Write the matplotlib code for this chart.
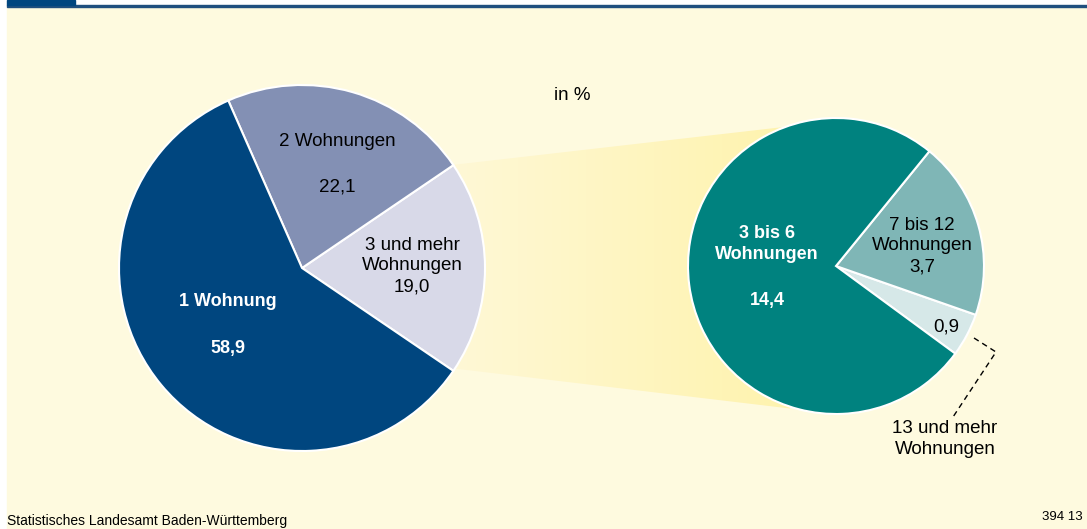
import numpy as np
import matplotlib.pyplot as plt
from matplotlib.patches import Polygon, Rectangle
from matplotlib.colors import LinearSegmentedColormap

plt.rcParams['font.family'] = ['Liberation Sans', 'DejaVu Sans']

# data
main_labels = ['3 und mehr\nWohnungen', '2 Wohnungen', '1 Wohnung']
main_values = [19.0, 22.1, 58.9]
main_colors = ['#d8d9e8', '#8390b4', '#00467f']
sub_labels = ['13 und mehr\nWohnungen', '7 bis 12\nWohnungen', '3 bis 6\nWohnungen']
sub_values = [0.9, 3.7, 14.4]
sub_colors = ['#d6e8e8', '#7fb6b6', '#00827f']

W, H = 1087, 529
bg = '#fefadf'
fig = plt.figure(figsize=(W / 100, H / 100), dpi=100)
fig.patch.set_facecolor('white')
ax = fig.add_axes([0, 0, 1, 1])
ax.set_xlim(0, W)
ax.set_ylim(0, H)
ax.axis('off')

def Y(y):
    return H - y

def num(v):
    return f'{v:.1f}'.replace('.', ',')

# cream panel + top rule
ax.add_patch(Rectangle((7, 0), W - 7, Y(7), color=bg, zorder=0))
ax.add_patch(Rectangle((7, Y(7)), W - 7, 2.5, color='#1f4f7e', zorder=1))
ax.add_patch(Rectangle((7, Y(5)), 68, 5, color='#00467f', zorder=1))

# yellow zoom band
c1, r1 = (302, Y(268)), 183
c2, r2 = (836, Y(266)), 148
poly = Polygon([(452, Y(165)), (836, Y(121)), (836, Y(414)), (450, Y(368))],
               closed=True, transform=ax.transData)
cmap = LinearSegmentedColormap.from_list('band', ['#fef8d6', '#fff3ae'])
grad = np.linspace(0, 1, 256).reshape(1, -1)
im = ax.imshow(grad, cmap=cmap, extent=[450, 790, Y(420), Y(115)],
               aspect='auto', zorder=2)
im.set_clip_path(poly)

wp = dict(edgecolor='white', linewidth=1.5)
ax.pie(main_values, colors=main_colors, startangle=-34.2, center=c1,
       radius=r1, wedgeprops=wp, frame=True)
ax.pie(sub_values, colors=sub_colors, startangle=-36.3, center=c2,
       radius=r2, wedgeprops=wp, frame=True)
for p in ax.patches[-6:]:
    p.set_zorder(3)
ax.set_xlim(0, W)
ax.set_ylim(0, H)
ax.set_aspect('auto')
ax.axis('off')

fs = 13.5
fb = 13
ls = 1.3
d = 2  # small downward nudge for text
ax.text(572, Y(93 + d), 'in %', fontsize=fs, ha='center', va='center')
ax.text(337, Y(140 + d), main_labels[1], fontsize=fs, ha='center', va='center', zorder=5)
ax.text(337, Y(185 + d), num(main_values[1]), fontsize=fs,
        ha='center', va='center', zorder=5)
ax.text(412, Y(264 + d), main_labels[0] + '\n' + num(main_values[0]),
        fontsize=fs, ha='center', va='center', linespacing=ls, zorder=5)
ax.text(228, Y(300 + d), main_labels[2], fontsize=fb, ha='center', va='center',
        color='white', fontweight='bold', zorder=5)
ax.text(228, Y(347 + d), num(main_values[2]), fontsize=fb,
        ha='center', va='center', color='white', fontweight='bold', zorder=5)

ax.text(767, Y(242 + d), sub_labels[2], fontsize=fb, ha='center', va='center',
        color='white', fontweight='bold', linespacing=ls, zorder=5)
ax.text(767, Y(299 + d), num(sub_values[2]), fontsize=fb,
        ha='center', va='center', color='white', fontweight='bold', zorder=5)
ax.text(922, Y(244 + d), sub_labels[1] + '\n' + num(sub_values[1]),
        fontsize=fs, ha='center', va='center', linespacing=ls, zorder=5)
ax.text(946, Y(325 + d), num(sub_values[0]), fontsize=fs,
        ha='center', va='center', zorder=5)
ax.text(945, Y(437 + d), sub_labels[0], fontsize=fs, ha='center', va='center',
        linespacing=ls, zorder=5)
ax.plot([974, 996, 953], [Y(338), Y(352), Y(417)], color='black', lw=1,
        ls=(0, (4, 3)), zorder=5)

foot = ['Liberation Sans Narrow', 'Liberation Sans', 'DejaVu Sans']
ax.text(7, Y(521), 'Statistisches Landesamt Baden-Württemberg', fontsize=10,
        ha='left', va='center', family=foot)
ax.text(1083, Y(517), '394 13', fontsize=9.5, ha='right', va='center',
        family=foot)

fig.savefig('out.png', dpi=100, facecolor=fig.get_facecolor())
